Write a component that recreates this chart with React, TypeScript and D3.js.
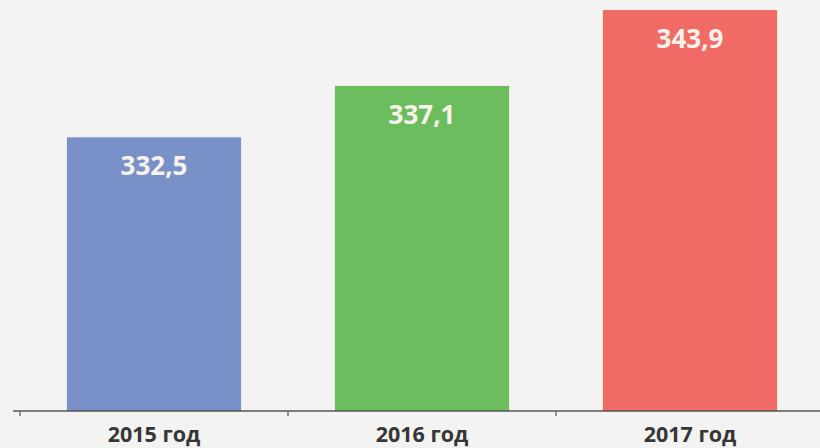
import React, { useEffect, useRef } from 'react';
import * as d3 from 'd3';

// chart data
const categories = ['2015 год', '2016 год', '2017 год'];
const values = [332.5, 337.1, 343.9];
const valueLabels = ['332,5', '337,1', '343,9'];
const colors = ['#7990c9', '#6cbd5d', '#f06b66'];

const App = () => {
  const ref = useRef<SVGSVGElement | null>(null);

  useEffect(() => {
    const width = 820;
    const height = 448;
    const margin = { top: 10, right: -4, bottom: 37, left: 20 };
    const innerW = width - margin.left - margin.right;
    const innerH = height - margin.top - margin.bottom;

    const root = d3.select(ref.current);
    root.selectAll('*').remove();

    root.append('rect')
      .attr('width', width)
      .attr('height', height)
      .attr('fill', '#f3f3f1');

    const svg = root.append('g')
      .attr('transform', `translate(${margin.left},${margin.top})`);

    const x = d3.scaleBand()
      .domain(categories)
      .range([0, innerW])
      .paddingInner(0.35)
      .paddingOuter(0.175);

    // the original is not drawn to scale, the axis starts well above zero
    const y = d3.scaleLinear()
      .domain([308, 343.9])
      .range([innerH, 0]);

    svg.selectAll('.bar')
      .data(values)
      .enter()
      .append('rect')
      .attr('class', 'bar')
      .attr('x', (d, i) => x(categories[i]) as number)
      .attr('y', d => y(d))
      .attr('width', x.bandwidth())
      .attr('height', d => innerH - y(d))
      .attr('fill', (d, i) => colors[i]);

    svg.selectAll('.value')
      .data(values)
      .enter()
      .append('text')
      .attr('class', 'value')
      .attr('x', (d, i) => (x(categories[i]) as number) + x.bandwidth() / 2)
      .attr('y', d => y(d) + 38)
      .attr('text-anchor', 'middle')
      .attr('font-family', '"Open Sans", sans-serif')
      .attr('font-weight', 700)
      .attr('font-size', 26)
      .attr('fill', '#f7f3ea')
      .text((d, i) => valueLabels[i]);

    // x axis with ticks between the bands
    const axis = svg.append('g').attr('transform', `translate(0,${innerH})`);
    axis.append('line')
      .attr('x1', -7)
      .attr('x2', innerW)
      .attr('stroke', '#555')
      .attr('stroke-width', 1.5);

    const step = x.step();
    const edges = d3.range(categories.length + 1).map(i => i * step);
    axis.selectAll('.tick')
      .data(edges)
      .enter()
      .append('line')
      .attr('class', 'tick')
      .attr('x1', d => d)
      .attr('x2', d => d)
      .attr('y1', 0)
      .attr('y2', 5)
      .attr('stroke', '#555')
      .attr('stroke-width', 1.2);

    axis.selectAll('.label')
      .data(categories)
      .enter()
      .append('text')
      .attr('class', 'label')
      .attr('x', d => (x(d) as number) + x.bandwidth() / 2)
      .attr('y', 31)
      .attr('text-anchor', 'middle')
      .attr('font-family', '"Open Sans", sans-serif')
      .attr('font-weight', 700)
      .attr('font-size', 21.5)
      .attr('fill', '#363636')
      .text(d => d);
  }, []);

  return (
    <div style={{ position: 'fixed', left: 0, top: 0 }}>
      <svg ref={ref} width={820} height={448} style={{ display: 'block' }} />
    </div>
  );
};

export default App;
